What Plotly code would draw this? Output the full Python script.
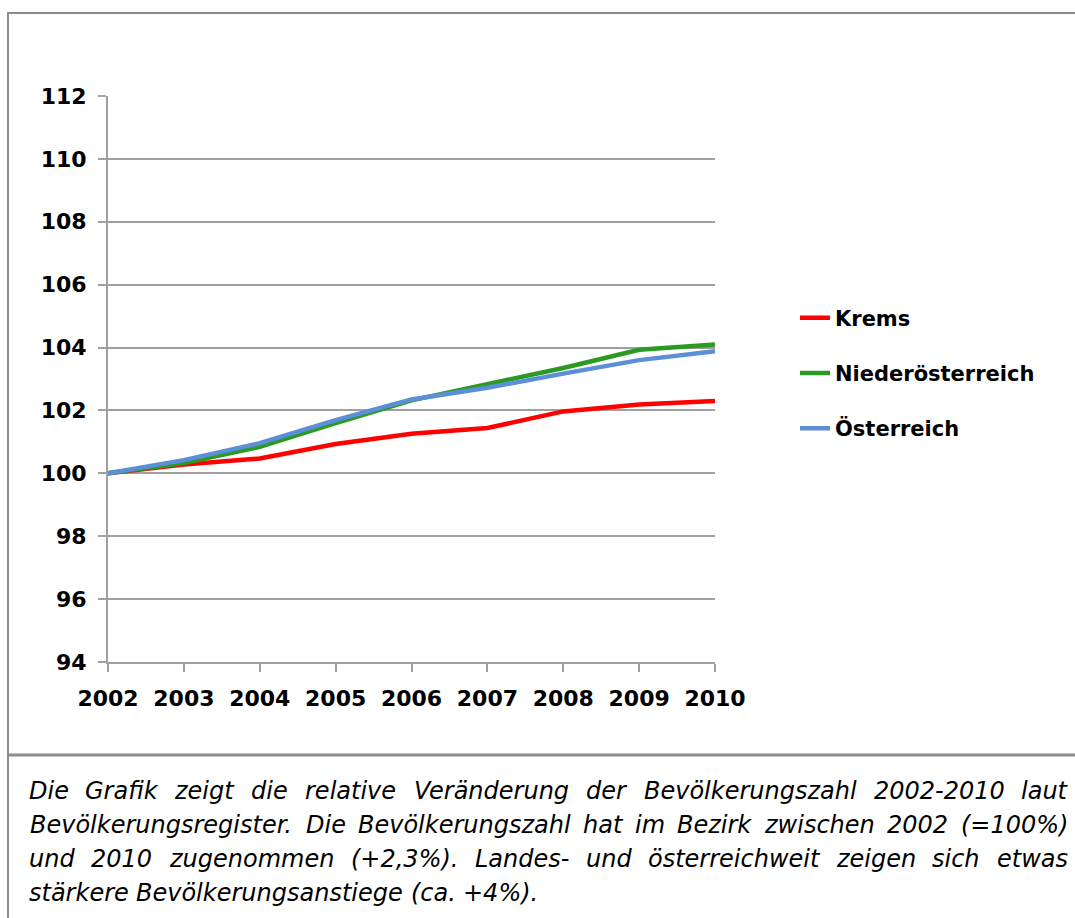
import plotly.graph_objects as go

# ---------------- data ----------------
years = [2002, 2003, 2004, 2005, 2006, 2007, 2008, 2009, 2010]
krems = [100.0, 100.28, 100.47, 100.93, 101.26, 101.44, 101.97, 102.19, 102.30]
noe = [100.0, 100.33, 100.84, 101.60, 102.32, 102.85, 103.35, 103.93, 104.10]
oe = [100.0, 100.42, 100.96, 101.69, 102.35, 102.72, 103.17, 103.60, 103.88]
series_names = ["Krems", "Niederösterreich", "Österreich"]
y_ticks = [94, 96, 98, 100, 102, 104, 106, 108, 110, 112]
caption_lines = [
    "Die Grafik zeigt die relative Veränderung der Bevölkerungszahl 2002-2010 laut",
    "Bevölkerungsregister. Die Bevölkerungszahl hat im Bezirk zwischen 2002 (=100%)",
    "und 2010 zugenommen (+2,3%). Landes- und österreichweit zeigen sich etwas",
    "stärkere Bevölkerungsanstiege (ca. +4%).",
]

# ---------------- layout helpers ----------------
W, H = 1075, 918
PL, PR, PT, PB = 108, 715, 96, 662  # plot area in pixels


def px(x):
    return (x - PL) / (PR - PL)


def py(y):
    return (PB - y) / (PB - PT)


colors = ["#ff0000", "#2a9a22", "#5b8fd8"]
GRID = "#a0a0a0"
BORDER = "#8c8c8c"

fig = go.Figure()
for i, (name, vals) in enumerate(zip(series_names, [krems, noe, oe])):
    fig.add_trace(go.Scatter(
        x=years, y=vals, name=name, mode="lines",
        line=dict(color=colors[i], width=4.5),
        legendgroup=name,
    ))

# ---------------- caption (justified) ----------------
# DejaVu Sans advance widths (units per em = 2048)
ADV = {
    " ": 651, "a": 1255, "b": 1300, "c": 1126, "d": 1300, "e": 1260, "f": 721,
    "g": 1300, "h": 1298, "i": 569, "k": 1186, "l": 569, "m": 1995, "n": 1298,
    "o": 1253, "r": 842, "s": 1067, "t": 803, "u": 1298, "v": 1212, "w": 1675,
    "z": 1075, "ä": 1255, "ö": 1253, "B": 1405, "D": 1577, "G": 1587, "L": 1141,
    "V": 1401, "(": 799, ")": 799, "=": 1716, "%": 1946, "+": 1716, ",": 651,
    ".": 651, "-": 739,
}
for d in "0123456789":
    ADV[d] = 1303

CAP_SIZE = 24
CAP_LEFT, CAP_RIGHT = 29, 1068
CAP_Y = [791, 825, 859, 893]


def wwidth(w):
    return sum(ADV.get(c, 1200) for c in w) / 2048 * CAP_SIZE


annotations = []
for li, line in enumerate(caption_lines):
    words = line.split(" ")
    justify = li < len(caption_lines) - 1
    widths = [wwidth(w) for w in words]
    if justify:
        gap = (CAP_RIGHT - CAP_LEFT - sum(widths)) / (len(words) - 1)
    else:
        gap = ADV[" "] / 2048 * CAP_SIZE
    x = CAP_LEFT
    for w, wd in zip(words, widths):
        annotations.append(dict(
            text=w, x=px(x + wd / 2), y=py(CAP_Y[li]), xref="paper", yref="paper",
            xanchor="center", yanchor="middle", showarrow=False,
            font=dict(family="DejaVu Sans", size=CAP_SIZE, color="black", style="italic"),
        ))
        x += wd + gap

# ---------------- frame ----------------
shapes = [
    dict(type="line", xref="paper", yref="paper", x0=px(8), x1=px(8), y0=py(12), y1=py(918),
         line=dict(color=BORDER, width=2)),
    dict(type="line", xref="paper", yref="paper", x0=px(7), x1=px(1075), y0=py(13), y1=py(13),
         line=dict(color=BORDER, width=2)),
    dict(type="line", xref="paper", yref="paper", x0=px(7), x1=px(1075), y0=py(755), y1=py(755),
         line=dict(color=BORDER, width=3)),
]

tickfont = dict(family="DejaVu Sans", size=22, color="black", weight="bold")

fig.update_layout(
    width=W, height=H, autosize=False,
    margin=dict(l=PL, r=W - PR, t=PT, b=H - PB, pad=0),
    paper_bgcolor="white", plot_bgcolor="white",
    showlegend=True,
    legend=dict(
        x=px(795), y=py(373), xanchor="left", yanchor="middle",
        traceorder="grouped", tracegroupgap=25,
        font=dict(family="DejaVu Sans", size=21, color="black", weight="bold"),
        bgcolor="rgba(0,0,0,0)", borderwidth=0, itemclick=False,
    ),
    xaxis=dict(
        range=[2002, 2010], tickvals=years, ticktext=[str(y) for y in years],
        showgrid=False, zeroline=False, showline=True, linecolor=GRID, linewidth=2,
        ticks="outside", ticklen=8, tickwidth=2, tickcolor=GRID,
        tickfont=tickfont, ticklabelstandoff=8,
    ),
    yaxis=dict(
        range=[94, 112], tickvals=y_ticks, ticktext=[str(v) for v in y_ticks],
        showgrid=True, gridcolor=GRID, gridwidth=2, zeroline=False,
        showline=True, linecolor=GRID, linewidth=2,
        ticks="outside", ticklen=8, tickwidth=2, tickcolor=GRID,
        tickfont=tickfont, ticklabelstandoff=7,
    ),
    annotations=annotations,
    shapes=shapes,
)

fig.write_html("out.html")
